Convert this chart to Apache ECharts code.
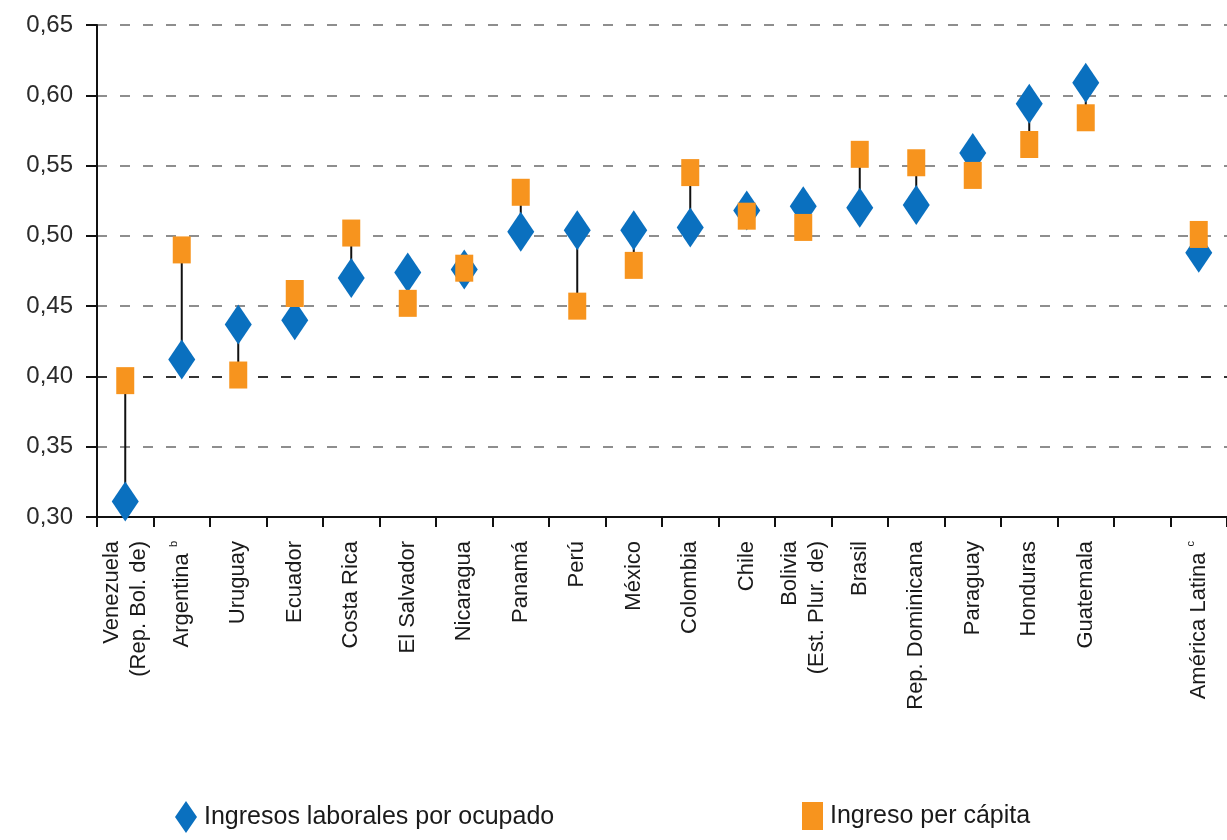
<!DOCTYPE html>
<html>
<head>
<meta charset="utf-8">
<title>Ingresos laborales por ocupado e ingreso per cápita</title>
<script src="https://cdn.jsdelivr.net/npm/echarts@6/dist/echarts.min.js"></script>
<style>
  html, body { margin: 0; padding: 0; background: #fff; }
  #chart { width: 1227px; height: 840px; }
</style>
</head>
<body>
<div id="chart"></div>
<script>
// países (el penúltimo queda vacío, como en el original)
var categories = ['Venezuela\n(Rep. Bol. de)', 'Argentina', 'Uruguay', 'Ecuador', 'Costa Rica',
  'El Salvador', 'Nicaragua', 'Panamá', 'Perú', 'México', 'Colombia', 'Chile',
  'Bolivia\n(Est. Plur. de)', 'Brasil', 'Rep. Dominicana', 'Paraguay', 'Honduras',
  'Guatemala', '', 'América Latina'];
// notas en superíndice
var notes = { 'Argentina': 'b', 'América Latina': 'c' };

var laborales = [0.311, 0.412, 0.437, 0.440, 0.470, 0.474, 0.476, 0.503, 0.504, 0.504,
  0.506, 0.518, 0.521, 0.520, 0.522, 0.559, 0.594, 0.609, null, 0.488];
var perCapita = [0.397, 0.490, 0.401, 0.459, 0.502, 0.452, 0.477, 0.531, 0.450, 0.479,
  0.545, 0.514, 0.506, 0.558, 0.552, 0.543, 0.565, 0.584, null, 0.501];

var yTicks = [0.30, 0.35, 0.40, 0.45, 0.50, 0.55, 0.60, 0.65];

var FONT = 'Liberation Sans, Arial, sans-serif';
var BLUE = '#0a70bf';
var ORANGE = '#f7941e';

// pares para las líneas verticales
var pares = [];
for (var i = 0; i < categories.length; i++) {
  if (laborales[i] != null && perCapita[i] != null) {
    pares.push([i, laborales[i], perCapita[i]]);
  }
}

var myChart = echarts.init(document.getElementById('chart'));

var option = {
  animation: false,
  backgroundColor: '#fff',
  grid: {
    left: 97,
    right: -19,
    top: 25,
    bottom: 323,
    containLabel: false
  },
  legend: [
    {
      left: 170,
      top: 796,
      itemWidth: 22,
      itemHeight: 32,
      textStyle: { fontSize: 25, color: '#1a1a1a', fontFamily: FONT, padding: [0, 0, 0, 2] },
      data: [{ name: 'Ingresos laborales por ocupado', icon: 'diamond' }]
    },
    {
      left: 797,
      top: 797,
      itemWidth: 21,
      itemHeight: 28,
      textStyle: { fontSize: 25, color: '#1a1a1a', fontFamily: FONT, padding: [0, 0, 0, 2] },
      data: [{ name: 'Ingreso per cápita', icon: 'rect' }]
    }
  ],
  xAxis: {
    type: 'category',
    data: categories,
    boundaryGap: true,
    axisLine: { show: true, lineStyle: { color: '#111', width: 2 } },
    axisTick: { show: true, alignWithLabel: false, length: 10, lineStyle: { color: '#111', width: 2 } },
    axisLabel: {
      interval: 0,
      rotate: 90,
      margin: 24,
      fontSize: 22,
      lineHeight: 27,
      color: '#1a1a1a',
      fontFamily: FONT,
      formatter: function (v) {
        if (notes[v]) return v + ' {sup|' + notes[v] + '}';
        return v;
      },
      rich: {
        sup: { fontSize: 11, color: '#1a1a1a', fontFamily: FONT, verticalAlign: 'top' }
      }
    },
    splitLine: { show: false }
  },
  yAxis: {
    type: 'value',
    min: 0.30,
    max: 0.65,
    interval: 0.05,
    axisLine: { show: true, lineStyle: { color: '#111', width: 2 } },
    axisTick: { show: true, inside: false, length: 11, lineStyle: { color: '#111', width: 2 } },
    axisLabel: {
      margin: 24,
      fontSize: 24,
      color: '#2a2a2a',
      fontFamily: FONT,
      formatter: function (v) { return v.toFixed(2).replace('.', ','); }
    },
    splitLine: {
      show: true,
      lineStyle: {
        // la línea de 0,40 es más oscura en el original
        color: yTicks.map(function (t) { return Math.abs(t - 0.40) < 1e-9 ? '#333' : '#8e8e8e'; }),
        width: 2,
        type: [10, 13]
      }
    }
  },
  series: [
    {
      name: 'conexion',
      type: 'custom',
      z: 1,
      silent: true,
      encode: { x: 0, y: [1, 2] },
      data: pares,
      renderItem: function (params, api) {
        var a = api.coord([api.value(0), api.value(1)]);
        var b = api.coord([api.value(0), api.value(2)]);
        return {
          type: 'line',
          shape: { x1: a[0], y1: a[1], x2: b[0], y2: b[1] },
          style: { stroke: '#111', lineWidth: 2 }
        };
      }
    },
    {
      name: 'Ingresos laborales por ocupado',
      type: 'scatter',
      z: 2,
      symbol: 'diamond',
      symbolSize: [27, 40],
      itemStyle: { color: BLUE, opacity: 1 },
      data: laborales
    },
    {
      name: 'Ingreso per cápita',
      type: 'scatter',
      z: 3,
      symbol: 'rect',
      symbolSize: [18, 27],
      itemStyle: { color: ORANGE, opacity: 1 },
      data: perCapita
    }
  ]
};

myChart.setOption(option);
</script>
</body>
</html>
